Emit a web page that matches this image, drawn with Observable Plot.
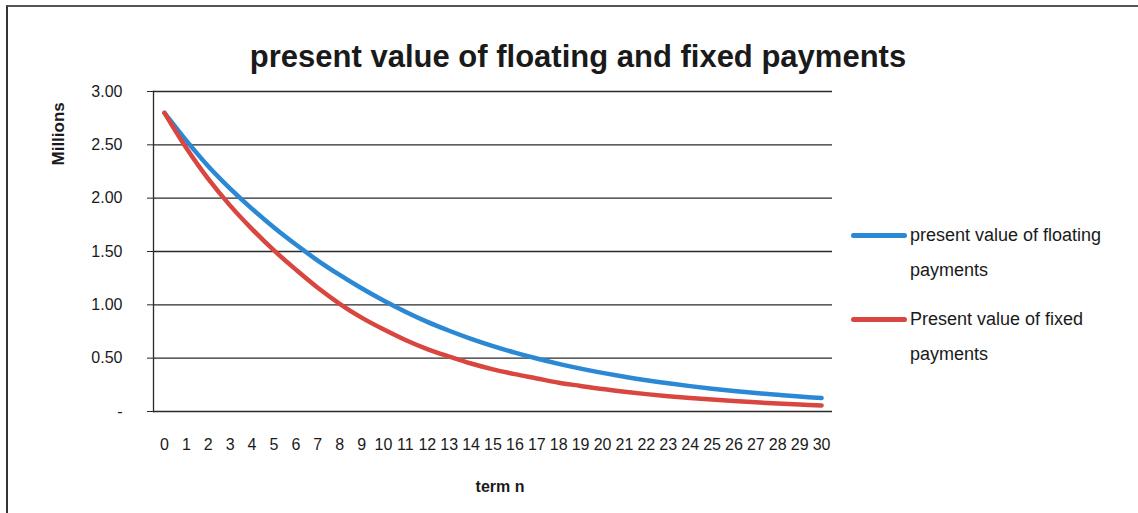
<!DOCTYPE html>
<html>
<head>
<meta charset="utf-8">
<script src="https://cdn.jsdelivr.net/npm/d3@7"></script>
<script src="https://cdn.jsdelivr.net/npm/@observablehq/plot@0.6"></script>
<style>
  html, body { margin: 0; padding: 0; background: #fff; }
  #wrap { position: relative; width: 1138px; height: 513px; overflow: hidden; font-family: "Liberation Sans", Arial, sans-serif; }
  #border { position: absolute; left: 6px; top: 5px; right: -10px; bottom: -10px; border-left: 2px solid #333; border-top: 2px solid #555; }
  #title { position: absolute; left: 0; width: 1156px; top: 39px; text-align: center; font-weight: bold; font-size: 31px; color: #1a1a1a; }
  .leg { position: absolute; font-size: 18px; color: #1a1a1a; line-height: 35px; }
  .sw { position: absolute; height: 5px; border-radius: 2.5px; }
  #plot { position: absolute; left: 0; top: 0; }
</style>
</head>
<body>
<div id="wrap">
  <div id="border"></div>
  <div id="plot"></div>
  <div id="title">present value of floating and fixed payments</div>
  <div class="sw" style="left:851px; top:233px; width:56px; background:#2b88d5;"></div>
  <div class="leg" style="left:910px; top:218px;">present value of floating<br>payments</div>
  <div class="sw" style="left:851px; top:317px; width:56px; background:#d9463f;"></div>
  <div class="leg" style="left:910px; top:302px;">Present value of fixed<br>payments</div>
</div>
<script>
const terms = d3.range(0, 31);
const floatingPV = [2.80, 2.54, 2.30, 2.09, 1.90, 1.725, 1.565, 1.415, 1.28, 1.155, 1.04,
  0.935, 0.84, 0.757, 0.681, 0.613, 0.552, 0.497, 0.447, 0.402, 0.362,
  0.326, 0.293, 0.264, 0.238, 0.214, 0.193, 0.173, 0.156, 0.140, 0.126];
const fixedPV = [2.80, 2.47, 2.18, 1.93, 1.71, 1.51, 1.33, 1.16, 1.01, 0.88, 0.77,
  0.67, 0.585, 0.515, 0.45, 0.395, 0.35, 0.31, 0.27, 0.24, 0.21,
  0.185, 0.163, 0.144, 0.127, 0.112, 0.098, 0.086, 0.075, 0.065, 0.057];
const yTicks = [0, 0.5, 1.0, 1.5, 2.0, 2.5, 3.0];
const seriesNames = ["present value of floating payments", "Present value of fixed payments"];
const seriesColors = ["#2b88d5", "#d9463f"];

const rows = [];
terms.forEach((t, i) => {
  rows.push({term: t, value: floatingPV[i], series: seriesNames[0]});
  rows.push({term: t, value: fixedPV[i], series: seriesNames[1]});
});

const chart = Plot.plot({
  width: 1138,
  height: 513,
  marginLeft: 153,
  marginRight: 306,
  marginTop: 91,
  marginBottom: 102,
  style: {fontFamily: "'Liberation Sans', Arial, sans-serif", background: "transparent"},
  x: {domain: [-0.5, 30.5]},
  y: {domain: [0, 3]},
  color: {domain: seriesNames, range: seriesColors},
  marks: [
    Plot.gridY(yTicks, {stroke: "#2a2a2a", strokeOpacity: 1, strokeWidth: 1.3}),
    Plot.frame({anchor: "left", stroke: "#2a2a2a", strokeWidth: 1.3}),
    Plot.axisY(yTicks, {
      tickSize: 6, tickPadding: 25, fontSize: 16, stroke: "#2a2a2a",
      tickFormat: d => d === 0 ? "-" : d3.format(".2f")(d), label: null, color: "#1a1a1a"
    }),
    Plot.axisX(terms, {
      tickSize: 0, tickPadding: 27, fontSize: 16, label: null, color: "#1a1a1a",
      tickFormat: d => String(d)
    }),
    Plot.line(rows, {x: "term", y: "value", z: "series", stroke: "series", strokeWidth: 4.5, curve: "catmull-rom"}),
    Plot.text(["Millions"], {frameAnchor: "left", rotate: -90, dx: -95, dy: -86, fontWeight: "bold", fontSize: 17, fill: "#1a1a1a"}),
    Plot.text(["term n"], {frameAnchor: "bottom", dy: 80, dx: 7, fontWeight: "bold", fontSize: 16, fill: "#1a1a1a"})
  ]
});
document.getElementById("plot").appendChild(chart);
</script>
</body>
</html>
